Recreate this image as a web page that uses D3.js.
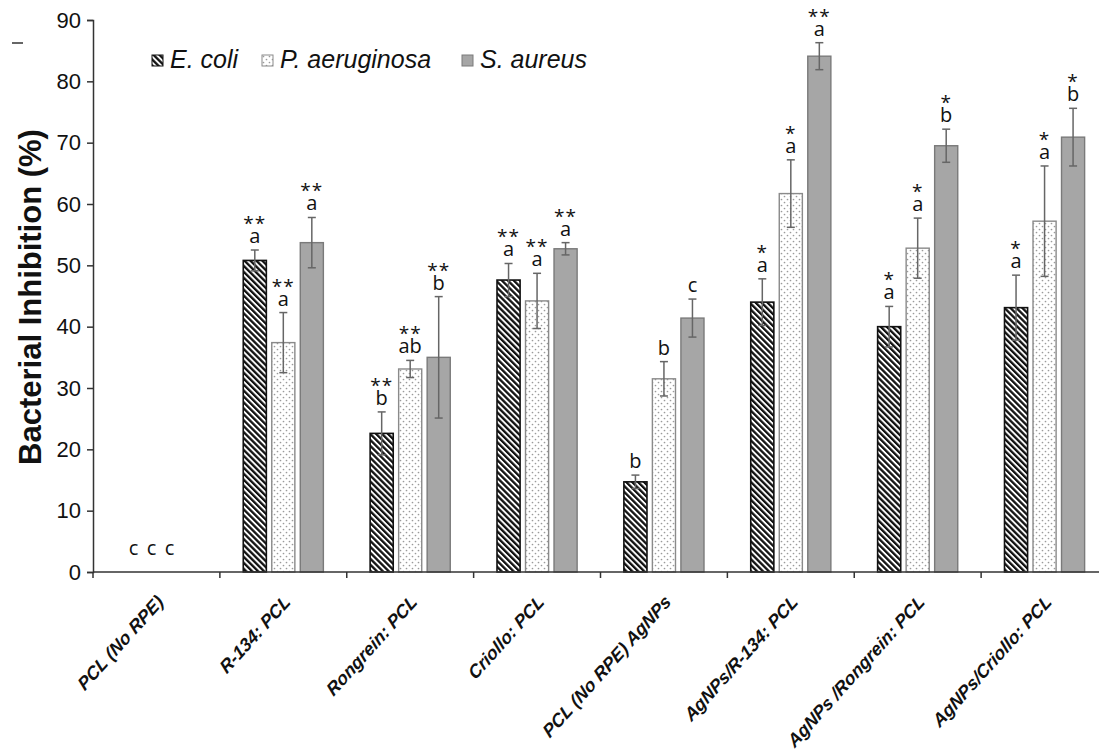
<!DOCTYPE html>
<meta charset="utf-8">
<script src="https://d3js.org/d3.v7.min.js"></script>
<style>
  body { margin: 0; background: #fff; }
  text { font-family: "Liberation Sans", Arial, sans-serif; }
</style>
<svg id="chart" width="1099" height="751"></svg>
<script>
// categories and series
const categories = ["PCL (No RPE)", "R-134: PCL", "Rongrein: PCL", "Criollo: PCL",
  "PCL  (No RPE) AgNPs", "AgNPs/R-134: PCL", "AgNPs /Rongrein: PCL", "AgNPs/Criollo: PCL"];
const seriesNames = ["E. coli", "P. aeruginosa", "S. aureus"];

const ecoli    = [0, 50.8, 22.6, 47.6, 14.7, 44.0, 40.0, 43.1];
const ecoliErr = [0, 1.7, 3.5, 2.7, 1.1, 3.8, 3.3, 5.3];
const pae      = [0, 37.4, 33.1, 44.2, 31.5, 61.7, 52.8, 57.2];
const paeErr   = [0, 4.9, 1.4, 4.5, 2.8, 5.5, 4.9, 9.0];
const sau      = [0, 53.7, 35.0, 52.7, 41.4, 84.1, 69.5, 70.9];
const sauErr   = [0, 4.1, 9.9, 1.0, 3.1, 2.2, 2.7, 4.7];

// significance letters and stars
const ecoliLetters = ["c", "a", "b", "a", "b", "a", "a", "a"];
const paeLetters   = ["c", "a", "ab", "a", "b", "a", "a", "a"];
const sauLetters   = ["c", "a", "b", "a", "c", "a", "b", "b"];
const ecoliStars = ["", "**", "**", "**", "", "*", "*", "*"];
const paeStars   = ["", "**", "**", "**", "", "*", "*", "*"];
const sauStars   = ["", "**", "**", "**", "", "**", "*", "*"];

const yTicks = [0, 10, 20, 30, 40, 50, 60, 70, 80, 90];

const svg = d3.select("#chart");

// patterns
const defs = svg.append("defs");
const stripes = defs.append("pattern")
  .attr("id", "stripes").attr("patternUnits", "userSpaceOnUse")
  .attr("width", 4.2).attr("height", 4.2)
  .attr("patternTransform", "rotate(-45)");
stripes.append("rect").attr("width", 4.2).attr("height", 4.2).attr("fill", "#fff");
stripes.append("rect").attr("width", 2.3).attr("height", 4.2).attr("fill", "#111");

const dots = defs.append("pattern")
  .attr("id", "dots").attr("patternUnits", "userSpaceOnUse")
  .attr("width", 6).attr("height", 6);
dots.append("rect").attr("width", 6).attr("height", 6).attr("fill", "#fff");
dots.append("circle").attr("cx", 1.5).attr("cy", 1.5).attr("r", 0.85).attr("fill", "#9a9a9a");
dots.append("circle").attr("cx", 4.5).attr("cy", 4.5).attr("r", 0.85).attr("fill", "#9a9a9a");

const fills   = ["url(#stripes)", "url(#dots)", "#a6a6a6"];
const strokes = ["#111", "#8a8a8a", "#7a7a7a"];

const series = [
  { name: seriesNames[0], vals: ecoli, errs: ecoliErr, letters: ecoliLetters, stars: ecoliStars },
  { name: seriesNames[1], vals: pae,   errs: paeErr,   letters: paeLetters,   stars: paeStars },
  { name: seriesNames[2], vals: sau,   errs: sauErr,   letters: sauLetters,   stars: sauStars }
];

// scales
const x = d3.scaleBand().domain(categories).range([93, 1108]).padding(0);
const xs = d3.scaleBand().domain(d3.range(3)).range([0, x.bandwidth()])
  .paddingInner(0.19).paddingOuter(0.82);
const y = d3.scaleLinear().domain([0, 90]).range([572, 20]);

// bars
const groups = svg.append("g").selectAll("g")
  .data(series).join("g");

groups.each(function(s, si) {
  const g = d3.select(this);
  const rows = categories.map((c, i) => ({ c, i, v: s.vals[i], e: s.errs[i],
    letter: s.letters[i], star: s.stars[i] }));

  g.selectAll("rect").data(rows.filter(d => d.v > 0)).join("rect")
    .attr("x", d => x(d.c) + xs(si))
    .attr("y", d => y(d.v))
    .attr("width", xs.bandwidth())
    .attr("height", d => y(0) - y(d.v))
    .attr("fill", fills[si])
    .attr("stroke", strokes[si])
    .attr("stroke-width", si === 0 ? 1.6 : 1.4);

  // error bars
  const eb = g.selectAll("g.err").data(rows.filter(d => d.e > 0)).join("g").attr("class", "err")
    .attr("stroke", "#666").attr("stroke-width", 1.5);
  const cx = d => x(d.c) + xs(si) + xs.bandwidth() / 2;
  eb.append("line").attr("x1", cx).attr("x2", cx)
    .attr("y1", d => y(d.v - d.e)).attr("y2", d => y(d.v + d.e));
  eb.append("line").attr("x1", d => cx(d) - 4).attr("x2", d => cx(d) + 4)
    .attr("y1", d => y(d.v + d.e)).attr("y2", d => y(d.v + d.e));
  eb.append("line").attr("x1", d => cx(d) - 4).attr("x2", d => cx(d) + 4)
    .attr("y1", d => y(d.v - d.e)).attr("y2", d => y(d.v - d.e));

  // letters and stars above the error bars
  const top = d => y(d.v + d.e);
  const lx = d => d.v > 0 ? cx(d) : x(d.c) + x.bandwidth() / 2 - 5 + (si - 1) * 18;
  g.selectAll("text.letter").data(rows).join("text").attr("class", "letter")
    .attr("x", lx)
    .attr("y", d => d.v > 0 ? top(d) - 7 : y(0) - 17)
    .attr("text-anchor", "middle")
    .style("font-family", "'Open Sans', sans-serif")
    .style("font-size", "20px")
    .attr("fill", "#111")
    .text(d => d.letter);

  g.selectAll("text.star").data(rows.filter(d => d.star)).join("text").attr("class", "star")
    .attr("x", lx)
    .attr("y", d => top(d) - 20)
    .attr("text-anchor", "middle")
    .style("font-family", "'Open Sans', sans-serif")
    .style("font-size", "19px")
    .style("letter-spacing", "1px")
    .attr("fill", "#111")
    .text(d => d.star);
});

// axes
const axisColor = "#333";
const yAxis = svg.append("g").attr("transform", "translate(93,0)")
  .call(d3.axisLeft(y).tickValues(yTicks).tickSize(6).tickPadding(6));
yAxis.selectAll("path, line").attr("stroke", axisColor).attr("stroke-width", 1.5);
yAxis.selectAll("text").style("font-size", "22px").attr("fill", "#111")
  .style("font-family", "'Liberation Sans', Arial, sans-serif");

const boundaries = categories.map(c => x(c));
const xAxis = svg.append("g").attr("transform", `translate(0,${y(0)})`);
xAxis.append("line").attr("x1", 93).attr("x2", 1108)
  .attr("stroke", axisColor).attr("stroke-width", 1.5);
xAxis.selectAll("line.tick").data(boundaries).join("line").attr("class", "tick")
  .attr("x1", d => d).attr("x2", d => d).attr("y1", 0).attr("y2", 6)
  .attr("stroke", axisColor).attr("stroke-width", 1.5);

svg.append("g").selectAll("text").data(categories).join("text")
  .attr("transform", d => `translate(${x(d) + x.bandwidth() / 2 + 8},603) scale(0.9,1) rotate(-45)`)
  .attr("text-anchor", "end")
  .style("font-size", "19px").style("font-weight", "bold").style("font-style", "italic")
  .attr("fill", "#111")
  .text(d => d);

// y title
svg.append("text")
  .attr("transform", "translate(41,297) rotate(-90)")
  .attr("text-anchor", "middle")
  .style("font-size", "31px").style("font-weight", "bold")
  .attr("fill", "#111")
  .text("Bacterial Inhibition (%)");

// stray mark at top left
svg.append("line").attr("x1", 12).attr("x2", 23).attr("y1", 43).attr("y2", 43)
  .attr("stroke", "#333").attr("stroke-width", 1.5);

// legend
const legendX = [152, 262, 462];
const legend = svg.append("g").selectAll("g").data(series).join("g")
  .attr("transform", (d, i) => `translate(${legendX[i]},55)`);
legend.append("rect").attr("width", 11).attr("height", 11)
  .attr("fill", (d, i) => fills[i]).attr("stroke", (d, i) => strokes[i]).attr("stroke-width", 1);
legend.append("text").attr("x", 18).attr("y", 13)
  .style("font-size", "25px").style("font-style", "italic").attr("fill", "#111")
  .text(d => d.name);
</script>
